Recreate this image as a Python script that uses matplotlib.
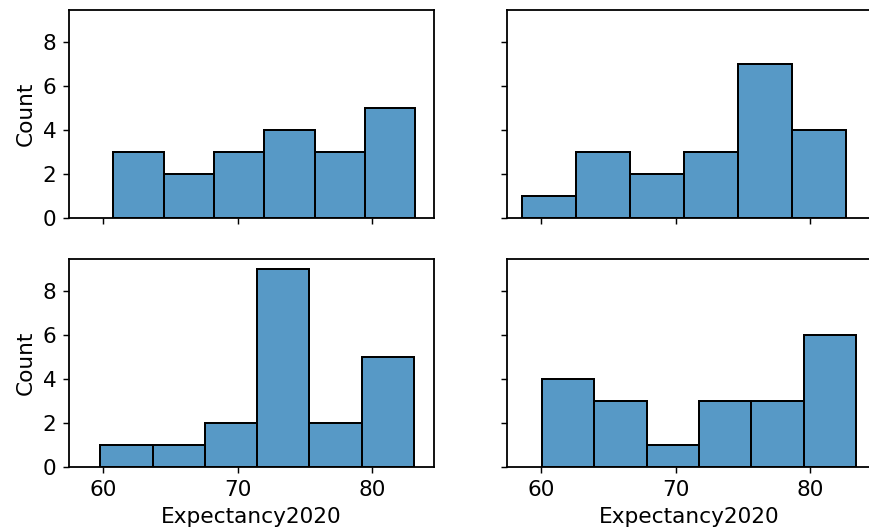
import numpy as np
import matplotlib
matplotlib.use("Agg")
import matplotlib.pyplot as plt
from matplotlib.colors import to_rgba

# bin ranges (first edge, last edge) and counts per panel
tl_range = (60.74, 83.2)
tl_counts = [3, 2, 3, 4, 3, 5]
tr_range = (58.6, 82.64)
tr_counts = [1, 3, 2, 3, 7, 4]
bl_range = (59.78, 83.1)
bl_counts = [1, 1, 2, 9, 2, 5]
br_range = (60.05, 83.4)
br_counts = [4, 3, 1, 3, 3, 6]

xticks = [60, 70, 80]
yticks = [0, 2, 4, 6, 8]

plt.rcParams["font.size"] = 12
plt.rcParams["axes.linewidth"] = 1.0

dpi = 130
fig, axes = plt.subplots(2, 2, figsize=(869 / dpi, 529 / dpi), dpi=dpi,
                         sharex=True, sharey=True)
fig.subplots_adjust(left=69 / 869, right=872 / 869, bottom=1 - 467 / 529,
                    top=1 - 10 / 529, wspace=73 / 365, hspace=41 / 208)

face = to_rgba("#1f77b4", 0.75)
panels = [(axes[0, 0], tl_range, tl_counts), (axes[0, 1], tr_range, tr_counts),
          (axes[1, 0], bl_range, bl_counts), (axes[1, 1], br_range, br_counts)]

for ax, rng, counts in panels:
    edges = np.linspace(rng[0], rng[1], len(counts) + 1)
    ax.bar(edges[:-1], counts, width=np.diff(edges), align="edge",
           facecolor=face, edgecolor="black", linewidth=1.1)

axes[0, 0].set_xlim(57.45, 84.6)
axes[0, 0].set_ylim(0, 9.45)
axes[0, 0].set_xticks(xticks)
axes[0, 0].set_yticks(yticks)

axes[0, 0].set_ylabel("Count")
axes[1, 0].set_ylabel("Count")
axes[1, 0].set_xlabel("Expectancy2020")
axes[1, 1].set_xlabel("Expectancy2020")

plt.savefig("out.png", dpi=dpi)
